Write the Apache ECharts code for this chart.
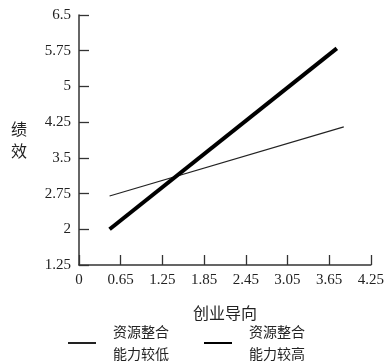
<!DOCTYPE html>
<html><head><meta charset="utf-8">
<script src="https://cdn.jsdelivr.net/npm/echarts@6/dist/echarts.min.js"></script>
<style>html,body{margin:0;padding:0;background:#fff}#c{width:387px;height:362px}</style>
</head><body><div id="c"></div>
<script>
var xTickValues = [0.05, 0.65, 1.25, 1.85, 2.45, 3.05, 3.65, 4.25];
var xTickLabels = ['0', '0.65', '1.25', '1.85', '2.45', '3.05', '3.65', '4.25'];
var yTickLabels = ['1.25', '2', '2.75', '3.5', '4.25', '5', '5.75', '6.5'];
var lowX = [0.49, 3.86];
var lowY = [2.70, 4.15];
var highX = [0.49, 3.76];
var highY = [2.00, 5.80];
var seriesNames = ['资源整合\n能力较低', '资源整合\n能力较高'];

var serif = '"Liberation Serif","DejaVu Serif",serif';
var cjk = '"Noto Sans CJK SC",sans-serif';
function pairs(xs, ys){ return xs.map(function(x,i){return [x, ys[i]];}); }

var chart = echarts.init(document.getElementById('c'), null, {renderer:'canvas'});
chart.setOption({
  backgroundColor:'#fff',
  animation:false,
  grid:{left:79, right:14, top:15, bottom:97, containLabel:false},
  xAxis:{
    type:'value', min:0.05, max:4.25,
    name:'创业导向', nameLocation:'middle', nameGap:40,
    nameTextStyle:{fontFamily:cjk, fontSize:16, color:'#222'},
    splitLine:{show:false},
    axisLine:{show:true, lineStyle:{color:'#333', width:1.5}},
    axisTick:{show:true, inside:true, length:10, customValues:xTickValues, lineStyle:{color:'#333', width:1.3}},
    axisLabel:{customValues:xTickValues, margin:8, fontFamily:serif, fontSize:15, color:'#222',
      formatter:function(v){ var i = xTickValues.findIndex(function(t){return Math.abs(t-v)<1e-6;}); return i>=0?xTickLabels[i]:''; }}
  },
  yAxis:{
    type:'value', min:1.25, max:6.5, interval:0.75,
    name:'绩\n效', nameLocation:'middle', nameGap:52, nameRotate:0,
    nameTextStyle:{fontFamily:cjk, fontSize:16, color:'#222', lineHeight:22},
    splitLine:{show:false},
    axisLine:{show:true, lineStyle:{color:'#333', width:1.5}},
    axisTick:{show:true, inside:true, length:10, lineStyle:{color:'#333', width:1.3}},
    axisLabel:{margin:8, fontFamily:serif, fontSize:15, color:'#222',
      formatter:function(v){ var i = Math.round((v-1.25)/0.75); return yTickLabels[i]; }}
  },
  legend:{
    left:62, top:316, itemWidth:28, itemHeight:14, itemGap:34,
    textStyle:{fontFamily:cjk, fontSize:14, color:'#222', lineHeight:22, padding:[0,0,0,12]},
    itemStyle:{opacity:0},
    data:[seriesNames[0], seriesNames[1]]
  },
  series:[
    {name:seriesNames[0], type:'line', data:pairs(lowX, lowY), symbol:'none', lineStyle:{color:'#222', width:1.2}, itemStyle:{color:'#222'}},
    {name:seriesNames[1], type:'line', data:pairs(highX, highY), symbol:'none', lineStyle:{color:'#000', width:4}, itemStyle:{color:'#000'}}
  ]
});
</script></body></html>
